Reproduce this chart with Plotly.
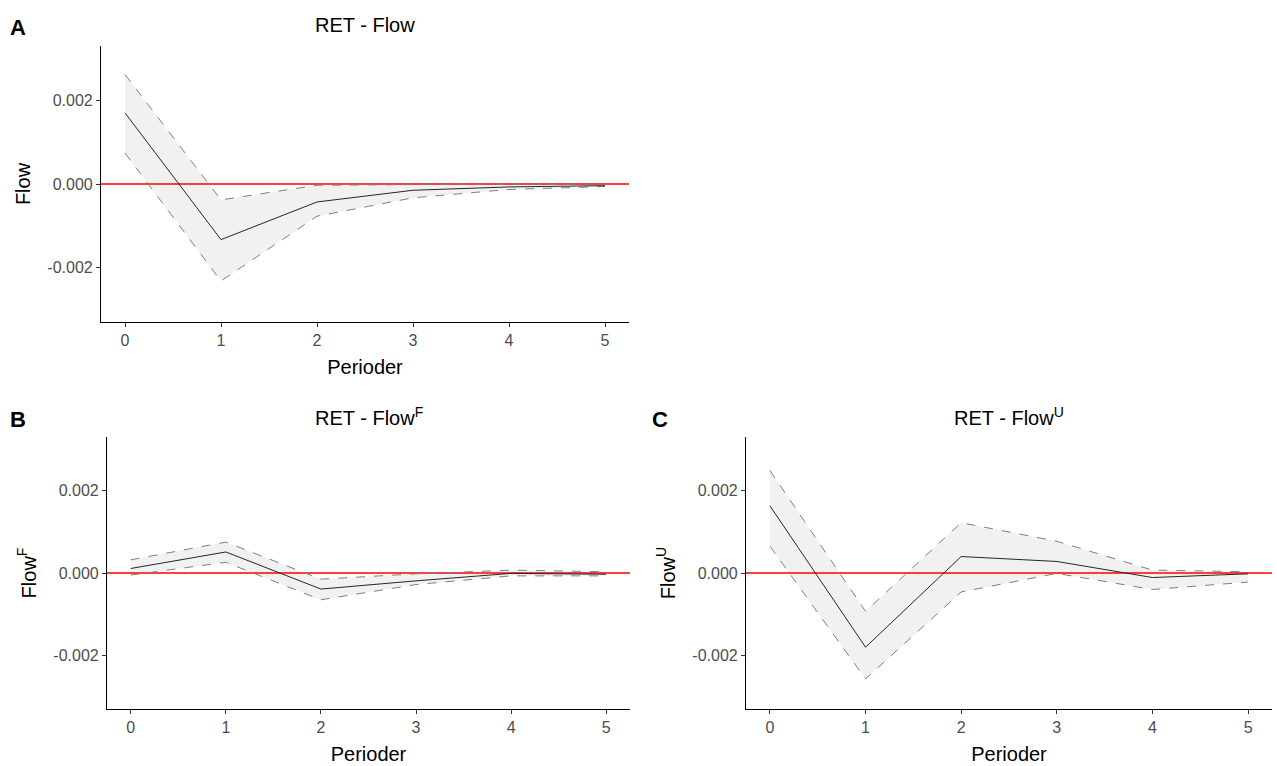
import plotly.graph_objects as go

periods = [0, 1, 2, 3, 4, 5]

# Panel A: RET - Flow
a_mean = [0.00170, -0.00133, -0.00043, -0.00015, -0.00007, -0.00004]
a_upper = [0.00262, -0.00038, -0.00003, -0.00002, 0.00000, -0.00002]
a_lower = [0.00074, -0.00232, -0.00077, -0.00033, -0.00013, -0.00006]

# Panel B: RET - Flow^F
b_mean = [0.00011, 0.00051, -0.00039, -0.00019, -0.00001, -0.00003]
b_upper = [0.00032, 0.00075, -0.00015, -0.00002, 0.00007, 0.00003]
b_lower = [-0.00005, 0.00026, -0.00065, -0.00028, -0.00007, -0.00007]

# Panel C: RET - Flow^U
c_mean = [0.00163, -0.00180, 0.00040, 0.00028, -0.00011, -0.00002]
c_upper = [0.00249, -0.00093, 0.00122, 0.00077, 0.00007, 0.00003]
c_lower = [0.00065, -0.00257, -0.00046, -0.00001, -0.00040, -0.00022]

ytick_vals = [-0.002, 0.0, 0.002]
ytick_text = ["-0.002", "0.000", "0.002"]
xtick_vals = [0, 1, 2, 3, 4, 5]
x_range = [-0.25, 5.25]
y_range = [-0.0033, 0.0033]

titles = ["RET - Flow", "RET - Flow<sup>F</sup>", "RET - Flow<sup>U</sup>"]
ytitles = ["Flow", "Flow<sup>F</sup>", "Flow<sup>U</sup>"]
letters = ["A", "B", "C"]

W, H = 1277, 766
# pixel boxes of the three panels: (left, right, top, bottom)
boxes = [(101, 629, 46, 322), (107, 630, 437, 709), (746, 1272, 437, 709)]

FONT = "Liberation Sans, Arial, sans-serif"
fig = go.Figure()
panels = [(a_mean, a_upper, a_lower), (b_mean, b_upper, b_lower), (c_mean, c_upper, c_lower)]

for i, (m, u, l) in enumerate(panels):
    xa = "x" if i == 0 else f"x{i+1}"
    ya = "y" if i == 0 else f"y{i+1}"
    fig.add_trace(go.Scatter(x=periods, y=u, mode="lines", line=dict(width=0, color="rgba(0,0,0,0)"),
                             xaxis=xa, yaxis=ya, showlegend=False, hoverinfo="skip"))
    fig.add_trace(go.Scatter(x=periods, y=l, mode="lines", line=dict(width=0, color="rgba(0,0,0,0)"),
                             fill="tonexty", fillcolor="#F1F1F1",
                             xaxis=xa, yaxis=ya, showlegend=False, hoverinfo="skip"))
    fig.add_trace(go.Scatter(x=x_range, y=[0, 0], mode="lines", line=dict(width=1.5, color="#FF0000"),
                             xaxis=xa, yaxis=ya, showlegend=False, hoverinfo="skip"))
    for band in (u, l):
        fig.add_trace(go.Scatter(x=periods, y=band, mode="lines",
                                 line=dict(width=1, color="#7F7F7F", dash="dash"),
                                 xaxis=xa, yaxis=ya, showlegend=False))
    fig.add_trace(go.Scatter(x=periods, y=m, mode="lines", line=dict(width=1, color="#262626"),
                             xaxis=xa, yaxis=ya, showlegend=False))

    left, right, top, bottom = boxes[i]
    xkey = "xaxis" if i == 0 else f"xaxis{i+1}"
    ykey = "yaxis" if i == 0 else f"yaxis{i+1}"
    fig.layout[xkey] = dict(
        domain=[left / W, right / W], anchor=ya, range=x_range,
        tickmode="array", tickvals=xtick_vals, ticks="outside", ticklen=4, tickcolor="#333333",
        showline=True, linecolor="#000000", linewidth=1.2, showgrid=False, zeroline=False,
        tickfont=dict(family=FONT, size=16, color="#4D4D4D"),
        title=dict(text="Perioder", font=dict(family=FONT, size=20, color="#000000"), standoff=11),
    )
    fig.layout[ykey] = dict(
        domain=[1 - bottom / H, 1 - top / H], anchor=xa, range=y_range,
        tickmode="array", tickvals=ytick_vals, ticktext=ytick_text,
        ticks="outside", ticklen=4, tickcolor="#333333",
        showline=True, linecolor="#000000", linewidth=1.2, showgrid=False, zeroline=False,
        tickfont=dict(family=FONT, size=16, color="#4D4D4D"),
        title=dict(text=ytitles[i], font=dict(family=FONT, size=20, color="#000000"), standoff=11),
    )
    fig.add_annotation(text=titles[i], x=(left + right) / 2 / W, y=1 - (top - 21) / H,
                       xref="paper", yref="paper", showarrow=False, xanchor="center", yanchor="middle",
                       font=dict(family=FONT, size=20, color="#000000"))
    lx = 18 if i < 2 else 660
    fig.add_annotation(text=f"<b>{letters[i]}</b>", x=lx / W, y=1 - (top - 18) / H,
                       xref="paper", yref="paper", showarrow=False, xanchor="center", yanchor="middle",
                       font=dict(family=FONT, size=22, color="#000000"))

fig.update_layout(width=W, height=H, margin=dict(l=0, r=0, t=0, b=0),
                  paper_bgcolor="white", plot_bgcolor="white", showlegend=False)
fig.write_html("out.html")
